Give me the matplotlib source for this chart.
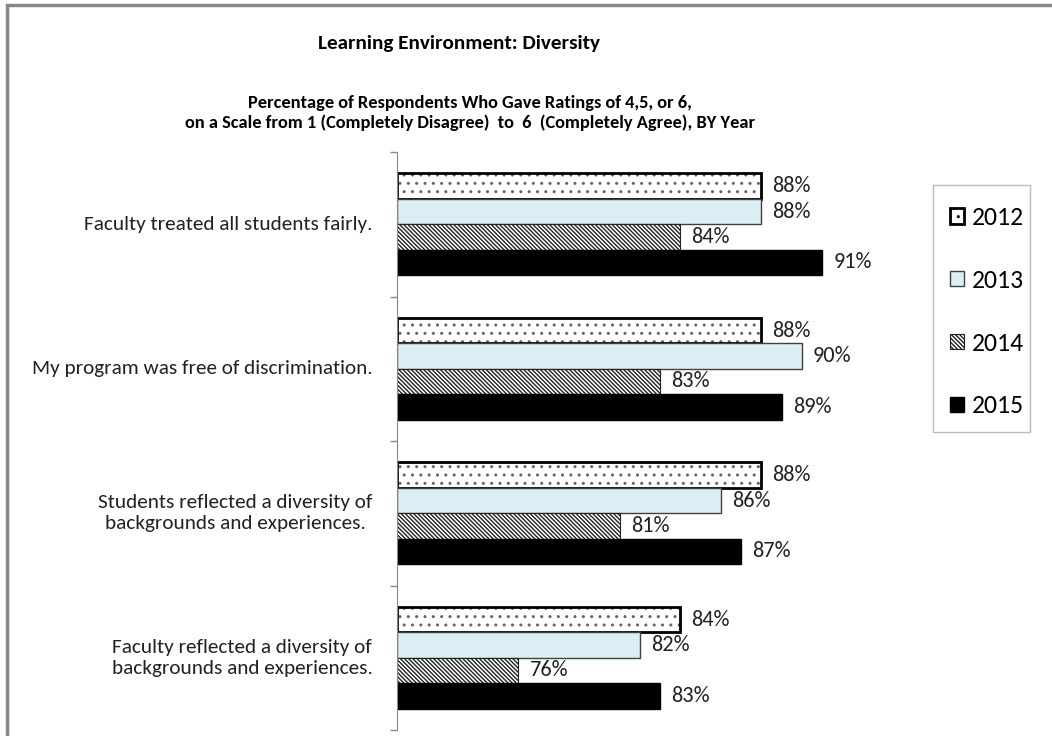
import matplotlib

matplotlib.use("Agg")
import matplotlib.pyplot as plt
from matplotlib.patches import Rectangle, Patch

plt.rcParams["font.family"] = ["Carlito", "Liberation Sans Narrow", "Open Sans", "DejaVu Sans"]
plt.rcParams["hatch.linewidth"] = 1.0

categories = [
    "Faculty treated all students fairly.",
    "My program was free of discrimination.",
    "Students reflected a diversity of\nbackgrounds and experiences.",
    "Faculty reflected a diversity of\nbackgrounds and experiences.",
]
years = ["2012", "2013", "2014", "2015"]
v2012 = [88, 88, 88, 84]
v2013 = [88, 90, 86, 82]
v2014 = [84, 83, 81, 76]
v2015 = [91, 89, 87, 83]
series = [v2012, v2013, v2014, v2015]

styles = [
    dict(facecolor="white", edgecolor="black", linewidth=2.0, hatch=".."),
    dict(facecolor="#DAEEF3", edgecolor="#404040", linewidth=1.0, hatch=None),
    dict(facecolor="white", edgecolor="#222222", linewidth=0.8, hatch="\\" * 8),
    dict(facecolor="black", edgecolor="black", linewidth=1.0, hatch=None),
]

W, H = 1052, 736
fig = plt.figure(figsize=(W / 100, H / 100), dpi=100)
ax = fig.add_axes([397 / W, 1 - 730 / H, 610 / W, 578 / H])

h = 0.176
for i, (vals, st) in enumerate(zip(series, styles)):
    ys = [c + (i - 1.5) * h for c in range(len(categories))]
    widths = [v - 70 for v in vals]
    if i == 0:
        # dotted fill in grey, thick black frame on top
        ax.barh(ys, widths, left=70, height=h, facecolor="white", edgecolor="#666666",
                linewidth=0, hatch="..")
        ax.barh(ys, widths, left=70, height=h, facecolor="none", edgecolor="black", linewidth=2.0)
    else:
        ax.barh(ys, widths, left=70, height=h, **st)
    for y, v in zip(ys, vals):
        ax.text(v + 0.55, y, f"{v}%", va="center", ha="left", fontsize=16, color="#222222")

ax.set_xlim(70, 100.14)
ax.set_ylim(3.5, -0.5)
ax.set_xticks([])
ax.set_yticks([c - 0.5 for c in range(len(categories) + 1)])
ax.set_yticklabels([])
ax.tick_params(axis="y", length=5, color="#888888", width=1)
for c, lab in enumerate(categories):
    ax.text(-0.04, c, lab, transform=ax.get_yaxis_transform(), ha="right", va="center",
            multialignment="center", fontsize=15.3, color="#222222", linespacing=1.3)
for s in ["top", "right", "bottom"]:
    ax.spines[s].set_visible(False)
ax.spines["left"].set_color("#888888")

fig.text(459 / W, 1 - 43 / H, "Learning Environment: Diversity", ha="center", va="center",
         fontsize=15.2, fontweight="bold")
fig.text(470 / W, 1 - 113 / H,
         "Percentage of Respondents Who Gave Ratings of 4,5, or 6,\n"
         "on a Scale from 1 (Completely Disagree)  to  6  (Completely Agree), BY Year",
         ha="center", va="center", fontsize=13.25, fontweight="bold", linespacing=1.25)

handles = [Patch(label=y, **st) for y, st in zip(years, styles)]
leg = fig.legend(handles=handles, loc="upper left", bbox_to_anchor=(950 / W, 1 - 206 / H),
                 fontsize=18.5, frameon=False, labelspacing=1.55, handlelength=0.55,
                 handleheight=0.55, handletextpad=0.3, borderpad=0, borderaxespad=0)
fig.patches.append(Rectangle((933 / W, 1 - 432 / H), 97 / W, 247 / H, transform=fig.transFigure,
                             fill=False, edgecolor="#BBBBBB", linewidth=1.0))

fig.patches.append(Rectangle((7 / W, -0.1), 1.2, 1 - 5 / H + 0.1, transform=fig.transFigure,
                             fill=False, edgecolor="#888888", linewidth=2.5))

fig.savefig("out.png", dpi=100)
